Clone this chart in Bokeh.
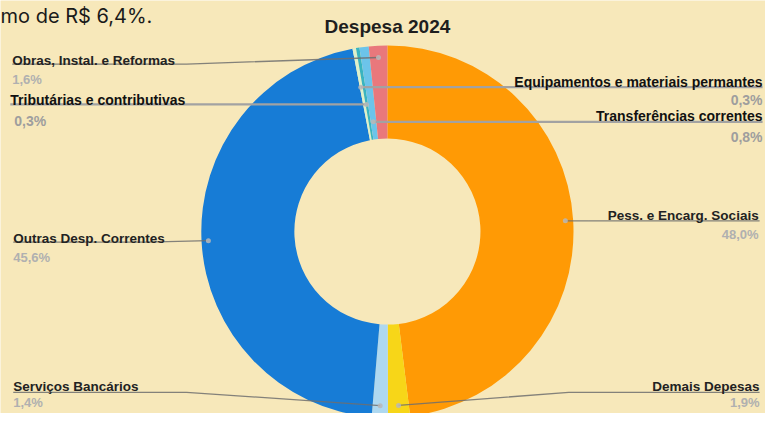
import numpy as np
from bokeh.plotting import figure
from bokeh.models import Range1d, ColumnDataSource
from bokeh.core.properties import value
from bokeh.embed import file_html
from bokeh.resources import INLINE

# ---------------- data ----------------
title_text = "Despesa 2024"
intro_text = "mo de R$ 6,4%."
categories = ["Pess. e Encarg. Sociais", "Demais Depesas", "Serviços Bancários",
              "Outras Desp. Correntes", "Equipamentos e materiais permantes",
              "Tributárias e contributivas", "Transferências correntes",
              "Obras, Instal. e Reformas"]
values = [48.0, 1.9, 1.4, 45.6, 0.3, 0.3, 0.8, 1.6]
colors = ["#FF9A05", "#F7D618", "#AED8F0", "#177CD6", "#DDF0CC",
          "#39B4C0", "#6CC4EA", "#E9787C"]

# ---------------- layout / style ----------------
BG = "#F7E8BA"
SW, SH = 781, 429           # reference coordinate system (pixels of the reference)
CX, CY = 395, 240           # donut centre (reference coords)
R_IN, R_OUT = 95, 190

def Y(sy):
    return SH - sy

p = figure(width=765, height=413, x_range=Range1d(0, SW), y_range=Range1d(0, SH),
           output_backend="svg", toolbar_location=None, min_border=0,
           background_fill_color=BG, border_fill_color=BG, outline_line_color=None)
p.axis.visible = False
p.grid.visible = False

vals = np.array(values, dtype=float)
frac = vals / vals.sum()
cum = np.cumsum(frac)
start = cum - frac
src = ColumnDataSource(dict(
    start_angle=np.pi / 2 - cum * 2 * np.pi,
    end_angle=np.pi / 2 - start * 2 * np.pi,
    color=colors, cat=categories))
p.annular_wedge(x=CX, y=Y(CY), inner_radius=R_IN, outer_radius=R_OUT,
                start_angle="start_angle", end_angle="end_angle",
                color="color", line_color=None, source=src)

# label layout: side, anchor x, name baseline, pct baseline, line y, line end x, bend x, dot radius (None = flat line), style
layout = {
    "Pess. e Encarg. Sociais":            ("right", 774, 223, 243, 229, 775, 600, 182, "old"),
    "Demais Depesas":                     ("right", 775, 401, 418, 407, 775, 580, 181, "old"),
    "Serviços Bancários":                 ("left", 13, 401, 418, 407, 13, 190, 181, "old"),
    "Outras Desp. Correntes":             ("left", 13, 247, 267, 251, 13, 150, 183, "old"),
    "Equipamentos e materiais permantes": ("right", 778, 85, 103, 90, 778, None, None, "new"),
    "Tributárias e contributivas":        ("left", 10, 103, 125, 108, 10, None, None, "new"),
    "Transferências correntes":           ("right", 778, 120, 142, 126, 778, None, None, "new"),
    "Obras, Instal. e Reformas":          ("left", 12, 62, 82, 66, 12, 190, 181, "old"),
}

theta = (start + frac / 2) * 2 * np.pi   # clockwise from top
for i, cat in enumerate(categories):
    side, ax, ny, py, ly, ex, bx, r, style = layout[cat]
    th = theta[i]
    if r is None:
        r = (CY - ly) / np.cos(th)
    dx = CX + r * np.sin(th)
    dy = CY - r * np.cos(th)
    if bx is None:
        bx = dx
    if style == "new":
        lc, lw, la = "#A2A2A2", 2.2, 1.0
        name_col, pct_col, fs, pfs = "#111111", "#9E9E9E", "14px", "14px"
    else:
        lc, lw, la = "#6E6E6E", 1.3, 0.85
        name_col, pct_col, fs, pfs = "#222222", "#B0B0B0", "13.5px", "13px"
    p.line([ex, bx, dx], [Y(ly), Y(ly), Y(dy)], line_color=lc, line_width=lw, line_alpha=la)
    p.scatter([dx], [Y(dy)], size=5, color="#B8B8B8", alpha=0.85, line_color=None)
    align = "left" if side == "left" else "right"
    p.text([ax], [Y(ny)], text=[cat], text_font=value("Liberation Sans"), text_font_style="bold",
           text_font_size=fs, text_color=name_col, text_align=align, text_baseline="alphabetic")
    pct = f"{values[i]:.1f}".replace(".", ",") + "%"
    pax = ax + (4 if (side == "left" and style == "new") else 0)
    p.text([pax], [Y(py)], text=[pct], text_font=value("Liberation Sans"), text_font_style="bold",
           text_font_size=pfs, text_color=pct_col, text_align=align, text_baseline="alphabetic")

# title
p.text([395], [Y(27)], text=[title_text], text_font=value("Liberation Sans"), text_font_style="bold",
       text_font_size="19px", text_color="#1E1E1E", text_align="center", text_baseline="alphabetic")
# cut-off article text at top-left
p.text([0], [Y(16)], text=[intro_text], text_font=value("Inter"),
       text_font_size="20px", text_color="#1A1A1A", text_align="left", text_baseline="alphabetic")

open("out.html", "w").write(file_html(p, INLINE))
